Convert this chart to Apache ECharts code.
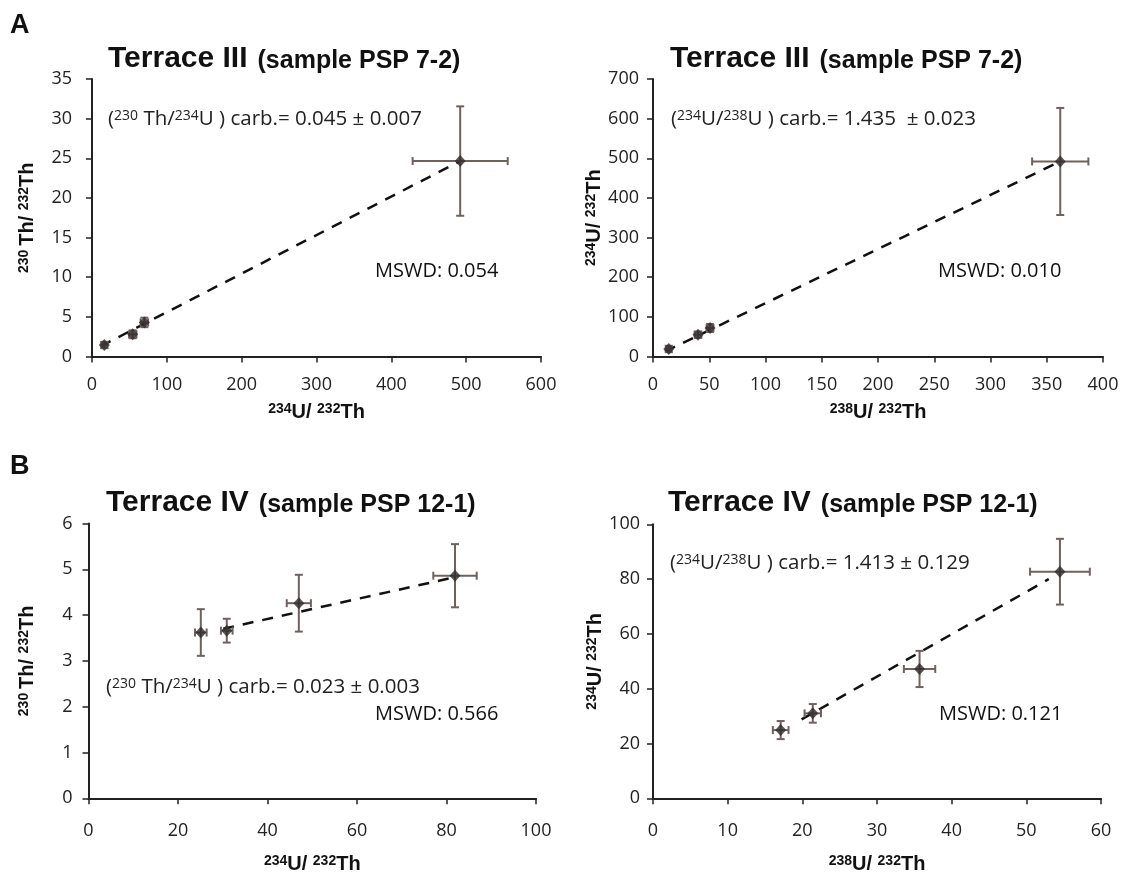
<!DOCTYPE html>
<html><head><meta charset="utf-8">
<script src="https://cdn.jsdelivr.net/npm/echarts@6/dist/echarts.min.js"></script>
<style>html,body{margin:0;padding:0;background:#fff}#c{width:1132px;height:888px}</style>
</head><body><div id="c"></div>
<script>
// Panel A left: 230Th/232Th vs 234U/232Th (Terrace III)
const a1X = [16.5, 54.4, 70, 492];
const a1Y = [1.45, 2.8, 4.3, 24.65];
const a1XErr = [4, 5, 5, 63.5];
const a1YErr = [0.4, 0.5, 0.6, 6.9];
const a1LineX = [11.7, 492];
const a1LineY = [1.3, 24.65];
// Panel A right: 234U/232Th vs 238U/232Th (Terrace III)
const a2X = [14, 40, 50.7, 362];
const a2Y = [19, 55, 72, 492];
const a2XErr = [2.5, 3, 3, 25];
const a2YErr = [8, 8, 10, 135];
const a2LineX = [10.7, 362];
const a2LineY = [12.6, 492];
// Panel B left: 230Th/232Th vs 234U/232Th (Terrace IV)
const b1X = [25.1, 30.9, 47.0, 81.9];
const b1Y = [3.62, 3.66, 4.26, 4.86];
const b1XErr = [1.3, 1.3, 2.7, 4.85];
const b1YErr = [0.51, 0.26, 0.62, 0.69];
const b1LineX = [30.1, 81.5];
const b1LineY = [3.70, 4.82];
// Panel B right: 234U/232Th vs 238U/232Th (Terrace IV)
const b2X = [17.1, 21.4, 35.7, 54.5];
const b2Y = [24.9, 31.0, 47.2, 82.7];
const b2XErr = [1.05, 1.1, 2.1, 4];
const b2YErr = [3.3, 3.4, 6.6, 12];
const b2LineX = [19.9, 53];
const b2LineY = [28.8, 80];

const FONT = '"Open Sans", "Liberation Sans", sans-serif';
const BOLD = '"Liberation Sans", Arial, sans-serif';
const ERR = '#6f625e';

const grids = [
  {left: 92, right: 591, top: 79, bottom: 531.5},
  {left: 653, right: 29, top: 79, bottom: 531.5},
  {left: 88.5, right: 596, top: 523.5, bottom: 89.7},
  {left: 653, right: 31, top: 524.3, bottom: 89.7}
];

const axisCommon = {
  axisLine: {show: true, onZero: false, lineStyle: {color: '#222', width: 2}},
  axisTick: {show: true, length: 6, lineStyle: {color: '#222', width: 1.5}},
  splitLine: {show: false},
  axisLabel: {color: '#222', fontFamily: FONT, fontSize: 18}
};
const nameRich = {
  m: {fontFamily: BOLD, fontWeight: 'bold', fontSize: 20, color: '#111', verticalAlign: 'bottom'},
  s: {fontFamily: BOLD, fontWeight: 'bold', fontSize: 14, color: '#111', verticalAlign: 'top'}
};
function xAx(gi, min, max, interval, name, gap, margin) {
  return Object.assign({}, axisCommon, {
    type: 'value', gridIndex: gi, min, max, interval, name, nameLocation: 'middle', nameGap: gap,
    nameTextStyle: {rich: nameRich},
    axisLabel: Object.assign({}, axisCommon.axisLabel, {margin})
  });
}
function yAx(gi, min, max, interval, name, gap, margin) {
  return Object.assign({}, axisCommon, {
    type: 'value', gridIndex: gi, min, max, interval, name, nameLocation: 'middle', nameGap: gap, nameRotate: 90,
    nameTextStyle: {rich: nameRich},
    axisLabel: Object.assign({}, axisCommon.axisLabel, {margin})
  });
}

function errSeries(gi, xs, ys, xe, ye) {
  return {
    type: 'custom', xAxisIndex: gi, yAxisIndex: gi, z: 3,
    data: xs.map((x, i) => [x, ys[i], xe[i], ye[i]]),
    renderItem: function (params, api) {
      const x = api.value(0), y = api.value(1), dx = api.value(2), dy = api.value(3);
      const l = api.coord([x - dx, y]), r = api.coord([x + dx, y]);
      const t = api.coord([x, y + dy]), b = api.coord([x, y - dy]);
      const c = 4;
      const st = {stroke: ERR, lineWidth: 2};
      return {type: 'group', children: [
        {type: 'line', shape: {x1: l[0], y1: l[1], x2: r[0], y2: r[1]}, style: st},
        {type: 'line', shape: {x1: l[0], y1: l[1] - c, x2: l[0], y2: l[1] + c}, style: st},
        {type: 'line', shape: {x1: r[0], y1: r[1] - c, x2: r[0], y2: r[1] + c}, style: st},
        {type: 'line', shape: {x1: t[0], y1: t[1], x2: b[0], y2: b[1]}, style: st},
        {type: 'line', shape: {x1: t[0] - c, y1: t[1], x2: t[0] + c, y2: t[1]}, style: st},
        {type: 'line', shape: {x1: b[0] - c, y1: b[1], x2: b[0] + c, y2: b[1]}, style: st}
      ]};
    }
  };
}
function ptSeries(gi, xs, ys) {
  return {type: 'scatter', xAxisIndex: gi, yAxisIndex: gi, z: 5, symbol: 'diamond', symbolSize: [11, 12],
    itemStyle: {color: '#2e2a2a'}, data: xs.map((x, i) => [x, ys[i]])};
}
function lineSeries(gi, xs, ys) {
  return {type: 'line', xAxisIndex: gi, yAxisIndex: gi, z: 2, symbol: 'none', silent: true,
    lineStyle: {color: '#111', width: 2.5, type: [11, 9]}, data: xs.map((x, i) => [x, ys[i]])};
}

const textRich = {
  n: {fontFamily: FONT, fontSize: 20.5, fill: '#222', verticalAlign: 'bottom'},
  s: {fontFamily: FONT, fontSize: 14, fill: '#222', verticalAlign: 'top'}
};
const titleRich = {
  a: {fontFamily: BOLD, fontWeight: 'bold', fontSize: 30, fill: '#111', verticalAlign: 'bottom', padding: [0, 10, 0, 0]},
  b: {fontFamily: BOLD, fontWeight: 'bold', fontSize: 25, fill: '#111', verticalAlign: 'bottom'}
};
function txt(x, y, text, rich) {
  return {type: 'text', left: x, top: y, silent: true, style: {text, rich: rich || textRich, fill: '#222'}};
}
function plain(x, y, text, size, bold) {
  return {type: 'text', left: x, top: y, silent: true,
    style: {text, fill: '#111', font: (bold ? 'bold ' : '') + size + 'px ' + (bold ? BOLD : FONT)}};
}

const chart = echarts.init(document.getElementById('c'), null, {renderer: 'canvas'});
chart.setOption({
  backgroundColor: '#fff',
  animation: false,
  grid: grids,
  xAxis: [
    xAx(0, 0, 600, 100, '{s|234}{m|U/ }{s|232}{m|Th}', 46, 19),
    xAx(1, 0, 400, 50, '{s|238}{m|U/ }{s|232}{m|Th}', 46, 19),
    xAx(2, 0, 100, 20, '{s|234}{m|U/ }{s|232}{m|Th}', 56, 24),
    xAx(3, 0, 60, 10, '{s|238}{m|U/ }{s|232}{m|Th}', 56, 24)
  ],
  yAxis: [
    yAx(0, 0, 35, 5, '{s|230 }{m|Th/ }{s|232}{m|Th}', 55, 20),
    yAx(1, 0, 700, 100, '{s|234}{m|U/ }{s|232}{m|Th}', 31, 14),
    yAx(2, 0, 6, 1, '{s|230 }{m|Th/ }{s|232}{m|Th}', 51, 16),
    yAx(3, 0, 100, 20, '{s|234}{m|U/ }{s|232}{m|Th}', 31, 13)
  ],
  series: [
    lineSeries(0, a1LineX, a1LineY), errSeries(0, a1X, a1Y, a1XErr, a1YErr), ptSeries(0, a1X, a1Y),
    lineSeries(1, a2LineX, a2LineY), errSeries(1, a2X, a2Y, a2XErr, a2YErr), ptSeries(1, a2X, a2Y),
    lineSeries(2, b1LineX, b1LineY), errSeries(2, b1X, b1Y, b1XErr, b1YErr), ptSeries(2, b1X, b1Y),
    lineSeries(3, b2LineX, b2LineY), errSeries(3, b2X, b2Y, b2XErr, b2YErr), ptSeries(3, b2X, b2Y)
  ],
  graphic: [
    plain(10, 12, 'A', 27, true),
    plain(10, 453, 'B', 27, true),
    txt(108, 44, '{a|Terrace III}{b|(sample PSP 7-2)}', titleRich),
    txt(670, 44, '{a|Terrace III}{b|(sample PSP 7-2)}', titleRich),
    txt(106, 488, '{a|Terrace IV}{b|(sample PSP 12-1)}', titleRich),
    txt(668, 488, '{a|Terrace IV}{b|(sample PSP 12-1)}', titleRich),
    txt(108, 109, '{n|(}{s|230}{n| Th/}{s|234}{n|U ) carb.= 0.045 ± 0.007}'),
    plain(375, 261, 'MSWD: 0.054', 20, false),
    txt(671, 109, '{n|(}{s|234}{n|U/}{s|238}{n|U ) carb.= 1.435  ± 0.023}'),
    plain(938, 261, 'MSWD: 0.010', 20, false),
    txt(106, 677, '{n|(}{s|230}{n| Th/}{s|234}{n|U ) carb.= 0.023 ± 0.003}'),
    plain(375, 704, 'MSWD: 0.566', 20, false),
    txt(670, 553, '{n|(}{s|234}{n|U/}{s|238}{n|U ) carb.= 1.413 ± 0.129}'),
    plain(939, 704, 'MSWD: 0.121', 20, false)
  ]
});
</script></body></html>
